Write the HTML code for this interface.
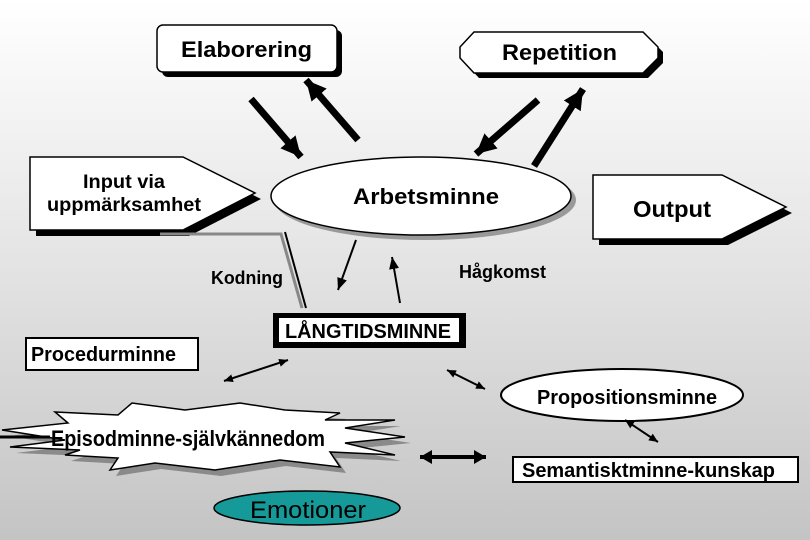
<!DOCTYPE html>
<html><head><meta charset="utf-8"><style>
html,body{margin:0;padding:0;}
body{width:810px;height:540px;overflow:hidden;background:linear-gradient(#ffffff 0%,#e6e6e6 45%,#c4c4c4 100%);}
svg{display:block;}
text{font-family:"Liberation Sans",Arial,sans-serif;font-weight:bold;fill:#000;}
</style></head><body>
<svg width="810" height="540" viewBox="0 0 810 540" xmlns="http://www.w3.org/2000/svg">
<defs>
<marker id="ah" markerWidth="12" markerHeight="10" refX="12" refY="5" orient="auto" markerUnits="userSpaceOnUse"><path d="M0,0 L12,5 L0,10 z" fill="#000"/></marker>
<marker id="as" markerWidth="9" markerHeight="8" refX="9" refY="4" orient="auto" markerUnits="userSpaceOnUse"><path d="M0,0 L9,4 L0,8 z" fill="#000"/></marker>
<marker id="asr" markerWidth="9" markerHeight="8" refX="0" refY="4" orient="auto" markerUnits="userSpaceOnUse"><path d="M9,0 L0,4 L9,8 z" fill="#000"/></marker>
<marker id="at" markerWidth="20" markerHeight="20" refX="20" refY="10" orient="auto" markerUnits="userSpaceOnUse"><path d="M0,0 L20,10 L0,20 z" fill="#000"/></marker>
<marker id="am" markerWidth="12" markerHeight="14" refX="12" refY="7" orient="auto" markerUnits="userSpaceOnUse"><path d="M0,0 L12,7 L0,14 z" fill="#000"/></marker>
<marker id="amr" markerWidth="12" markerHeight="14" refX="0" refY="7" orient="auto" markerUnits="userSpaceOnUse"><path d="M12,0 L0,7 L12,14 z" fill="#000"/></marker>
</defs>

<rect x="162" y="30" width="180" height="47" rx="6" fill="#000"/>
<rect x="157" y="25" width="180" height="47" rx="6" fill="#fff" stroke="#000" stroke-width="1.5"/>
<text x="181" y="57" font-size="22" textLength="131" lengthAdjust="spacingAndGlyphs">Elaborering</text>

<polygon points="479,37 648,37 663,52 663,63 648,78 479,78 465,63 465,52" fill="#000"/>
<polygon points="474,32 643,32 658,47 658,58 643,73 474,73 460,58 460,47" fill="#fff" stroke="#000" stroke-width="1.5"/>
<text x="502" y="60" font-size="22" textLength="115" lengthAdjust="spacingAndGlyphs">Repetition</text>

<line x1="251" y1="99" x2="301" y2="157" stroke="#000" stroke-width="7" marker-end="url(#at)"/>
<line x1="358" y1="140" x2="306" y2="80" stroke="#000" stroke-width="7" marker-end="url(#at)"/>
<line x1="538" y1="100" x2="476" y2="154" stroke="#000" stroke-width="7" marker-end="url(#at)"/>
<line x1="534" y1="166" x2="583" y2="89" stroke="#000" stroke-width="7" marker-end="url(#at)"/>

<polygon points="36,163 189,163 261,199 189,236 36,236" fill="#000"/>
<polygon points="30,157 183,157 255,193 183,230 30,230" fill="#fff" stroke="#000" stroke-width="1.5"/>
<text x="83" y="188" font-size="19" textLength="82" lengthAdjust="spacingAndGlyphs">Input via</text>
<text x="47" y="211" font-size="19" textLength="154" lengthAdjust="spacingAndGlyphs">uppmärksamhet</text>

<polyline points="160,234 281,234 302,308" fill="none" stroke="#888" stroke-width="3"/>
<line x1="285" y1="232" x2="306" y2="308" stroke="#000" stroke-width="2"/>

<ellipse cx="425" cy="200" rx="151" ry="40" fill="#999"/>
<ellipse cx="421" cy="196" rx="150" ry="39" fill="#fff" stroke="#000" stroke-width="1.5"/>
<text x="353" y="204" font-size="22" textLength="146" lengthAdjust="spacingAndGlyphs">Arbetsminne</text>

<polygon points="599,181 728,181 792,213 728,245 599,245" fill="#000"/>
<polygon points="593,175 722,175 786,207 722,239 593,239" fill="#fff" stroke="#000" stroke-width="1.5"/>
<text x="633" y="217" font-size="23" textLength="78" lengthAdjust="spacingAndGlyphs">Output</text>

<text x="211" y="284" font-size="18" textLength="72" lengthAdjust="spacingAndGlyphs">Kodning</text>
<text x="459" y="278" font-size="18" textLength="87" lengthAdjust="spacingAndGlyphs">Hågkomst</text>
<line x1="356" y1="240" x2="338" y2="290" stroke="#000" stroke-width="2" marker-end="url(#ah)"/>
<line x1="400" y1="303" x2="392" y2="257" stroke="#000" stroke-width="2" marker-end="url(#ah)"/>

<rect x="273" y="313" width="193" height="35" fill="#000"/>
<rect x="279" y="318" width="180" height="24" fill="#fff"/>
<text x="285" y="338" font-size="20" textLength="166" lengthAdjust="spacingAndGlyphs">LÅNGTIDSMINNE</text>

<rect x="26" y="338" width="172" height="32" fill="#fff" stroke="#000" stroke-width="2"/>
<text x="31" y="361" font-size="20" textLength="145" lengthAdjust="spacingAndGlyphs">Procedurminne</text>

<line x1="224" y1="381" x2="288" y2="360" stroke="#000" stroke-width="2" marker-end="url(#as)" marker-start="url(#asr)"/>
<line x1="447" y1="370" x2="485" y2="389" stroke="#000" stroke-width="2" marker-end="url(#as)" marker-start="url(#asr)"/>

<ellipse cx="622" cy="395" rx="121" ry="26" fill="#fff" stroke="#000" stroke-width="2"/>
<text x="537" y="404" font-size="20" textLength="180" lengthAdjust="spacingAndGlyphs">Propositionsminne</text>

<line x1="625" y1="420" x2="658" y2="442" stroke="#000" stroke-width="2" marker-end="url(#as)" marker-start="url(#asr)"/>

<rect x="513" y="457" width="285" height="25" fill="#fff" stroke="#000" stroke-width="2"/>
<text x="522" y="477" font-size="20" textLength="253" lengthAdjust="spacingAndGlyphs">Semantisktminne-kunskap</text>

<line x1="420" y1="457" x2="486" y2="457" stroke="#000" stroke-width="4" marker-end="url(#am)" marker-start="url(#amr)"/>

<g transform="translate(6,6)"><polygon fill="#8a8a8a" points="2,430 68,423 55,412 118,415 132,403 185,410 240,403 285,410 340,413 325,420 395,420 345,428 405,437 345,443 395,455 330,452 340,467 280,460 215,470 155,463 110,470 118,458 65,455 80,450 10,447 65,440"/></g>
<polygon fill="#fff" stroke="#000" stroke-width="1.5" points="2,430 68,423 55,412 118,415 132,403 185,410 240,403 285,410 340,413 325,420 395,420 345,428 405,437 345,443 395,455 330,452 340,467 280,460 215,470 155,463 110,470 118,458 65,455 80,450 10,447 65,440"/>
<line x1="0" y1="437" x2="50" y2="437" stroke="#000" stroke-width="3"/>
<text x="51" y="446" font-size="22" textLength="274" lengthAdjust="spacingAndGlyphs">Episodminne-självkännedom</text>

<ellipse cx="307" cy="508" rx="93" ry="17" fill="#159999" stroke="#000" stroke-width="1.5"/>
<text x="250" y="518" font-size="24" style="font-weight:normal" textLength="116" lengthAdjust="spacingAndGlyphs">Emotioner</text>
</svg>
</body></html>
